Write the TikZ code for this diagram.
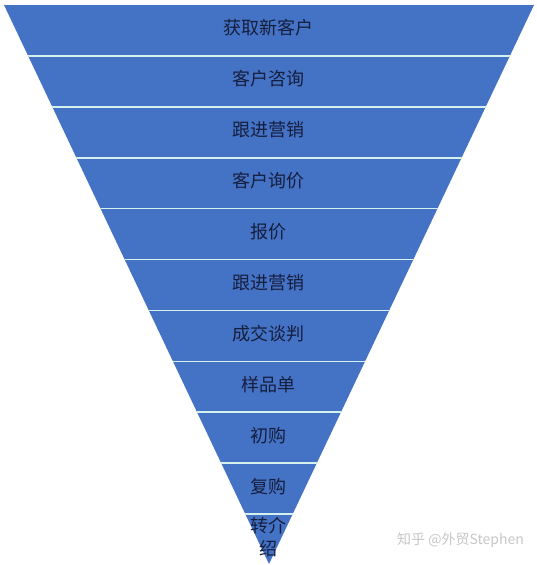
\documentclass[tikz,border=0pt]{standalone}
\usepackage{fontspec}
\newfontfamily\cjk{Noto Sans CJK SC}
\definecolor{bandblue}{RGB}{68,114,196}
\definecolor{sepline}{RGB}{214,240,238}
\definecolor{labeltext}{RGB}{22,30,62}
\begin{document}
\begin{tikzpicture}[x=1pt,y=-1pt,
  bandlabel/.style={text=labeltext,font=\cjk\fontsize{18}{23}\selectfont,inner sep=0pt,align=center},
  sepstyle/.style={draw=sepline,line width=1.6pt},
  watermark/.style={text=black!22,font=\cjk\fontsize{14}{16}\selectfont,inner sep=0pt}]
\useasboundingbox (0,0) rectangle (536,565);
\fill[white] (0,0) rectangle (536,565);
\coordinate (tl) at (4,5);
\coordinate (tr) at (534,5);
\coordinate (apex) at (269,564);
\fill[bandblue] (tl) -- (tr) -- (apex) -- cycle;
\begin{scope}
  \clip (tl) -- (tr) -- (apex) -- cycle;
  \foreach \k in {1,...,10} {
    \draw[sepstyle] (0,{5+50.9*\k}) -- (536,{5+50.9*\k});
  }
\end{scope}
\node[bandlabel] (b1) at (268,28) {获取新客户};
\node[bandlabel] (b2) at (268,79) {客户咨询};
\node[bandlabel] (b3) at (268,130) {跟进营销};
\node[bandlabel] (b4) at (268,181) {客户询价};
\node[bandlabel] (b5) at (268,232) {报价};
\node[bandlabel] (b6) at (268,283) {跟进营销};
\node[bandlabel] (b7) at (268,334) {成交谈判};
\node[bandlabel] (b8) at (268,385) {样品单};
\node[bandlabel] (b9) at (268,436) {初购};
\node[bandlabel] (b10) at (268,487) {复购};
\node[bandlabel] (b11) at (268,537) {转介\\绍};
\node[watermark,anchor=east] (wm) at (524,540) {知乎 @外贸Stephen};
\end{tikzpicture}
\end{document}
